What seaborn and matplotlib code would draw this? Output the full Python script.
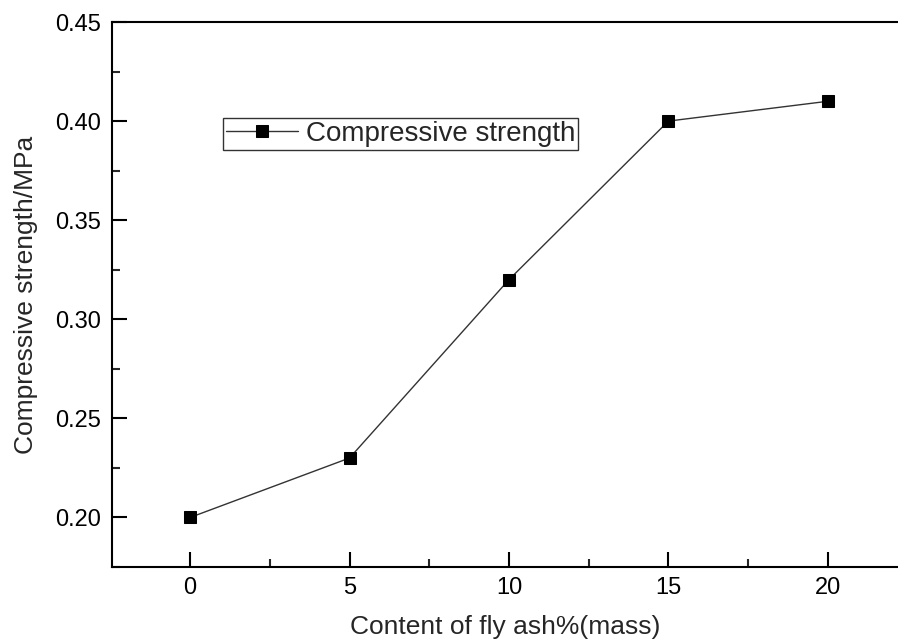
import matplotlib
matplotlib.use("Agg")
import matplotlib.pyplot as plt
from matplotlib.ticker import MultipleLocator
import seaborn as sns
import pandas as pd

# data
fly_ash = [0, 5, 10, 15, 20]
strength = [0.20, 0.23, 0.32, 0.40, 0.41]
x_ticks = [0, 5, 10, 15, 20]
y_ticks = [0.20, 0.25, 0.30, 0.35, 0.40, 0.45]

sns.set_style("ticks")
plt.rcParams['font.family'] = ['Liberation Sans', 'DejaVu Sans']

df = pd.DataFrame({'fly_ash': fly_ash, 'strength': strength})

fig = plt.figure(figsize=(8.98, 6.4), dpi=100)
ax = fig.add_axes([112 / 898, 1 - 567 / 640, 1 - 112 / 898, (567 - 22) / 640])

sns.lineplot(data=df, x='fly_ash', y='strength', ax=ax, color='#333333',
             linewidth=1.0, marker='s', markersize=9,
             markerfacecolor='black', markeredgecolor='black',
             label='Compressive strength')

ax.set_xlim(-2.45, 22.2)
ax.set_ylim(0.175, 0.45)
ax.set_xticks(x_ticks)
ax.set_yticks(y_ticks)
ax.set_yticklabels([f'{v:.2f}' for v in y_ticks])
ax.xaxis.set_minor_locator(MultipleLocator(2.5))
ax.yaxis.set_minor_locator(MultipleLocator(0.025))

ax.tick_params(which='major', direction='in', length=11, width=1.5,
               labelsize=17, colors='black', pad=8)
ax.tick_params(which='minor', direction='in', length=6, width=1.5)
ax.tick_params(axis='x', pad=7)

for side in ['left', 'bottom', 'top']:
    ax.spines[side].set_visible(True)
    ax.spines[side].set_linewidth(1.5)
    ax.spines[side].set_color('black')
ax.spines['right'].set_visible(False)

ax.set_xlabel('Content of fly ash%(mass)', fontsize=19, labelpad=12)
ax.set_ylabel('Compressive strength/MPa', fontsize=19, labelpad=12)

leg = ax.legend(loc='upper left', bbox_to_anchor=(223 / 898, 1 - 118 / 640),
                bbox_transform=fig.transFigure, fontsize=20, frameon=True,
                fancybox=False, handlelength=2.6, handletextpad=0.3,
                borderpad=0.1, borderaxespad=0)
leg.get_frame().set_edgecolor('black')
leg.get_frame().set_linewidth(1.0)

fig.savefig('out.png', dpi=100)
